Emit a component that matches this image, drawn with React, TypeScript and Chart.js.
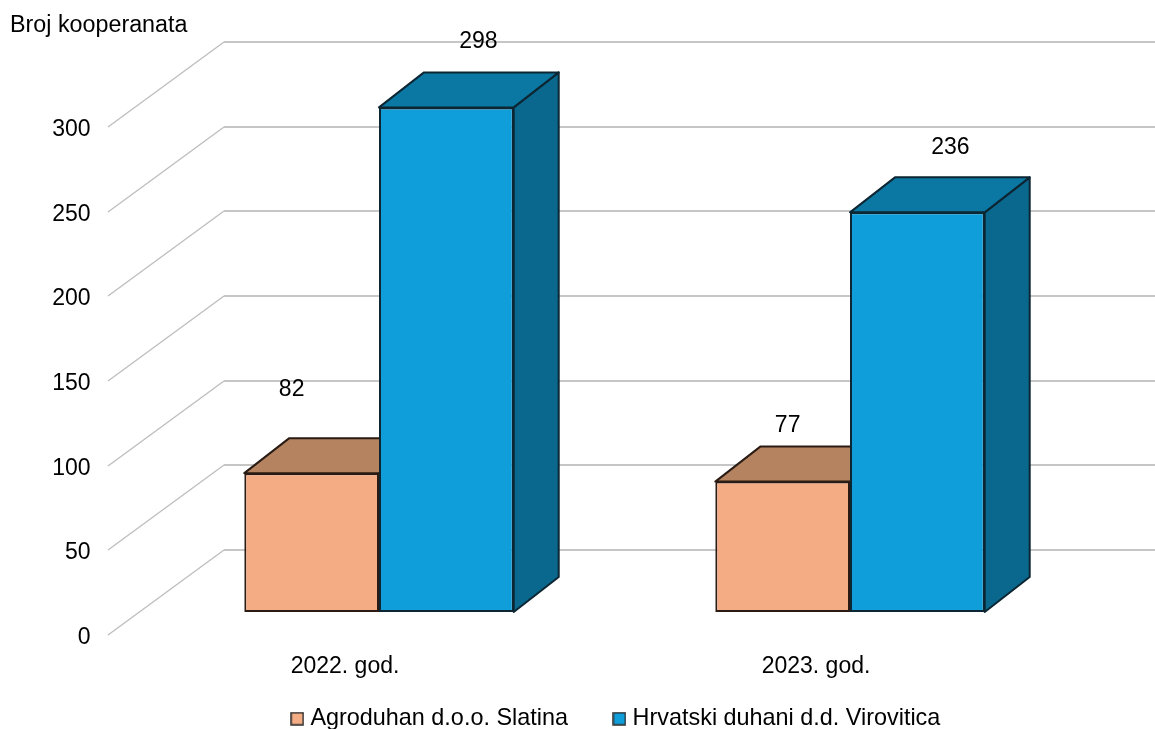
import React, { useEffect, useRef } from "react";
import { Chart, registerables } from "chart.js";

Chart.register(...registerables);

const categories = ["2022. god.", "2023. god."];
const agroduhan = [82, 77];
const hrvatskiDuhani = [298, 236];
const seriesNames = ["Agroduhan d.o.o. Slatina", "Hrvatski duhani d.d. Virovitica"];
const axisTitle = "Broj kooperanata";

const FONT = "Liberation Sans";
const FRONT = ["#F4AC84", "#0F9ED9"];
const TOP = ["#B5835F", "#0B77A3"];
const SIDE = ["#8F6548", "#0A688E"];
const EDGE = ["#2a1c14", "#0c2733"];
const LINE = 2;

const WALL = { dx: 116, dy: -85 };
const PLANE = { dx: 34, dy: -23 };
const DEPTH = { dx: 45, dy: -35 };
const LABEL_OFFSETS = [
  [[-20, -83], [5, -56]],
  [[32, -66], [33, -65]],
];

const poly = (ctx: CanvasRenderingContext2D, pts: number[][], fill: string, stroke: string) => {
  ctx.beginPath();
  pts.forEach(([x, y], i) => (i ? ctx.lineTo(x, y) : ctx.moveTo(x, y)));
  ctx.closePath();
  ctx.fillStyle = fill;
  ctx.fill();
  ctx.strokeStyle = stroke;
  ctx.lineWidth = LINE;
  ctx.lineJoin = "round";
  ctx.stroke();
};

const legendSwatch = (fill: string) => {
  const c = document.createElement("canvas");
  c.width = 14;
  c.height = 14;
  const g = c.getContext("2d")!;
  g.fillStyle = fill;
  g.fillRect(1, 1, 12, 12);
  g.strokeStyle = "#2b2b2b";
  g.lineWidth = 1.5;
  g.strokeRect(1, 1, 12, 12);
  return c;
};

const box3d = {
  id: "box3d",
  afterLayout(chart: any) {
    chart.legend.left = 184.5;
    chart.legend.top = 657;
  },
  beforeDatasetsDraw(chart: any) {
    const { ctx } = chart;
    const y = chart.scales.y;
    ctx.save();
    for (const v of y.ticks.map((t: any) => t.value)) {
      const py = Math.round(y.getPixelForValue(v));
      const x0 = y.right - 1.5;
      ctx.strokeStyle = "#BEBEBE";
      ctx.lineWidth = 1.4;
      ctx.beginPath();
      ctx.moveTo(x0, py);
      ctx.lineTo(x0 + WALL.dx, py + WALL.dy);
      ctx.stroke();
      ctx.strokeStyle = "#C6C6C6";
      ctx.lineWidth = 2;
      ctx.beginPath();
      ctx.moveTo(x0 + WALL.dx, py + WALL.dy);
      ctx.lineTo(chart.width, py + WALL.dy);
      ctx.stroke();
    }
    [0, 1].forEach((d) => {
      chart.getDatasetMeta(d).data.forEach((el: any) => {
        const p = el.getProps(["x", "y", "base", "width"], true);
        const l = p.x - p.width / 2 + PLANE.dx;
        const r = p.x + p.width / 2 + PLANE.dx;
        const t = p.y + PLANE.dy;
        const b = p.base + PLANE.dy;
        if (d === 1) {
          poly(ctx, [[r, t], [r + DEPTH.dx, t + DEPTH.dy], [r + DEPTH.dx, b + DEPTH.dy], [r, b]], SIDE[d], EDGE[d]);
        }
        poly(ctx, [[l, t], [l + DEPTH.dx, t + DEPTH.dy], [r + DEPTH.dx, t + DEPTH.dy], [r, t]], TOP[d], EDGE[d]);
      });
    });
    ctx.restore();
  },
  beforeDatasetDraw(chart: any) {
    chart.ctx.save();
    chart.ctx.translate(PLANE.dx, PLANE.dy);
  },
  afterDatasetDraw(chart: any) {
    chart.ctx.restore();
  },
  afterDatasetsDraw(chart: any) {
    const { ctx } = chart;
    ctx.save();
    ctx.fillStyle = "#000";
    ctx.font = `23px "${FONT}"`;
    ctx.textBaseline = "middle";
    ctx.textAlign = "center";
    [0, 1].forEach((d) => {
      chart.getDatasetMeta(d).data.forEach((el: any, i: number) => {
        const p = el.getProps(["x", "y"], true);
        const [ox, oy] = LABEL_OFFSETS[d][i];
        ctx.fillText(String(chart.data.datasets[d].data[i]), p.x + PLANE.dx + ox, p.y + PLANE.dy + oy);
      });
    });
    ctx.textAlign = "left";
    ctx.font = `23.3px "${FONT}"`;
    ctx.fillText(axisTitle, 10, 26);
    ctx.restore();
  },
};

export default function App() {
  const ref = useRef<HTMLCanvasElement>(null);
  useEffect(() => {
    const swatches = FRONT.map(legendSwatch);
    const chart = new Chart(ref.current!, {
      type: "bar",
      data: {
        labels: categories,
        datasets: [
          { label: seriesNames[0], data: agroduhan, backgroundColor: FRONT[0], borderColor: EDGE[0], borderWidth: LINE, borderSkipped: false },
          { label: seriesNames[1], data: hrvatskiDuhani, backgroundColor: FRONT[1], borderColor: EDGE[1], borderWidth: LINE, borderSkipped: false },
        ],
      },
      options: {
        animation: false,
        responsive: false,
        clip: false,
        layout: { padding: { top: 127, left: 0, right: 103.5, bottom: -39.4 } },
        datasets: { bar: { categoryPercentage: 0.572, barPercentage: 1 } },
        scales: {
          x: {
            grid: { display: false },
            border: { display: false },
            ticks: { color: "#000", font: { size: 23, family: FONT }, padding: 10, maxRotation: 0, autoSkip: false },
            afterFit: (s: any) => { s.height = 50; },
          },
          y: {
            min: 0,
            max: 300,
            grid: { display: false },
            border: { display: false },
            ticks: { stepSize: 50, color: "#000", font: { size: 23, family: FONT }, padding: 11, labelOffset: 2.5 },
            afterFit: (s: any) => { s.width = 109.5; },
          },
        },
        plugins: {
          tooltip: { enabled: false },
          legend: {
            position: "bottom",
            labels: {
              usePointStyle: true,
              pointStyleWidth: 3,
              boxHeight: 13,
              padding: 50,
              color: "#000",
              font: { size: 23.4, family: FONT },
              generateLabels: () =>
                seriesNames.map((text, i) => ({
                  text,
                  fillStyle: FRONT[i],
                  strokeStyle: "#2b2b2b",
                  lineWidth: 1,
                  pointStyle: swatches[i],
                  datasetIndex: i,
                  fontColor: "#000",
                })),
            },
          },
        },
      } as any,
      plugins: [box3d],
    });
    return () => chart.destroy();
  }, []);
  return (
    <canvas
      ref={ref}
      width={1155}
      height={729}
      style={{ position: "absolute", left: 0, top: 0, display: "block", width: 1155, height: 729 }}
    />
  );
}
